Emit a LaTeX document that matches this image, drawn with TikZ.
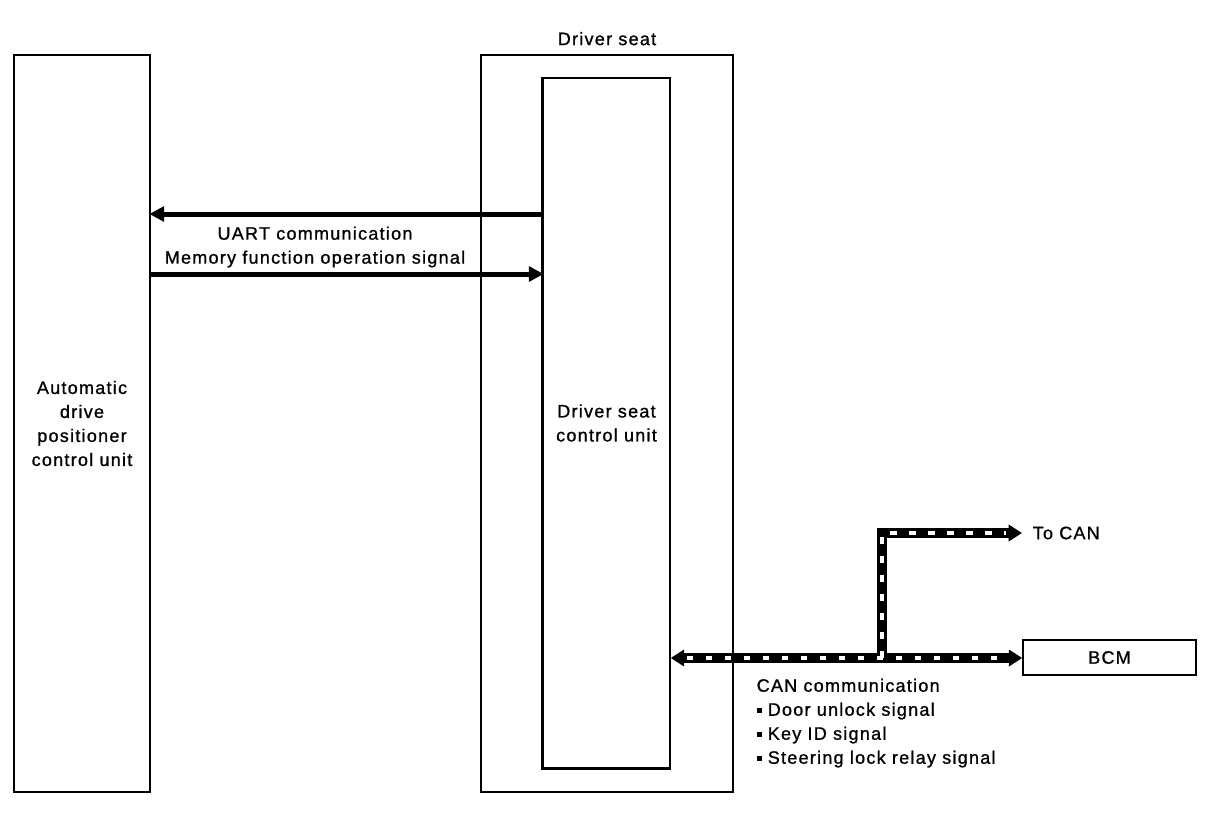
\documentclass[tikz,border=0pt]{standalone}
\usepackage{fontspec}
\setmainfont{Liberation Sans}[LetterSpace=7,FakeBold=1]
\usetikzlibrary{arrows.meta}
\newcommand{\sqbul}{\rule[2.4pt]{3.6pt}{3.6pt}}
\begin{document}
\begin{tikzpicture}[x=0.75pt,y=-0.75pt,
  every node/.style={font=\fontsize{13.5pt}{18pt}\selectfont},
  box/.style={draw, line width=1.1pt, inner sep=0pt, align=center},
  uart/.style={line width=3.75pt, -{Triangle[length=11pt,width=11pt]}, shorten >=-1pt},
  canblack/.style={line width=7.2pt, black},
  canwhite/.style={line width=3pt, white, dash pattern=on 5pt off 9.25pt}
]
\useasboundingbox (0,0) rectangle (1216,824);
\node[box, minimum width=102pt, minimum height=552.75pt] (adp) at (82,423.5) {Automatic\\drive\\positioner\\control unit};
\node[box, minimum width=189pt, minimum height=552.75pt] (seat) at (607,423.5) {};
\node[anchor=south] (seatlbl) at (607,50) {Driver seat};
\node[box, minimum width=95.25pt, minimum height=517.5pt] (dscu) at (606.5,423) {Driver seat\\control unit};
\draw[line width=2.4pt] (dscu.north west) -- (dscu.south west) -- (dscu.south east);
\node[box, minimum width=129.75pt, minimum height=26.25pt] (bcm) at (1109.5,657.5) {BCM};
% UART
\draw[uart] (dscu.west |- 0,214) -- (adp.east |- 0,214);
\draw[uart] (adp.east |- 0,274) -- (dscu.west |- 0,274);
\node[align=center] (uartlbl) at (315,247) {UART communication\\Memory function operation signal};
% CAN
\coordinate (junc) at (882,658);
\coordinate (tocan) at (1022,533);
\draw[canblack, {Triangle[length=10pt,width=12pt]}-{Triangle[length=10pt,width=12pt]}] (dscu.east |- 0,658) -- (bcm.west |- 0,658);
\draw[canblack, -{Triangle[length=10pt,width=12pt]}] (junc) |- (tocan);
\draw[canwhite, shorten >=12pt] (junc) |- (tocan);
\draw[canwhite] ([xshift=12pt]dscu.east |- 0,658) -- ([xshift=-12pt]bcm.west |- 0,658);
\node[anchor=west] (tocanlbl) at (1028,533) {To CAN};
\node[anchor=north west, align=left] (canlbl) at (752,674) {CAN communication\\\sqbul\ Door unlock signal\\\sqbul\ Key ID signal\\\sqbul\ Steering lock relay signal};
\end{tikzpicture}
\end{document}
